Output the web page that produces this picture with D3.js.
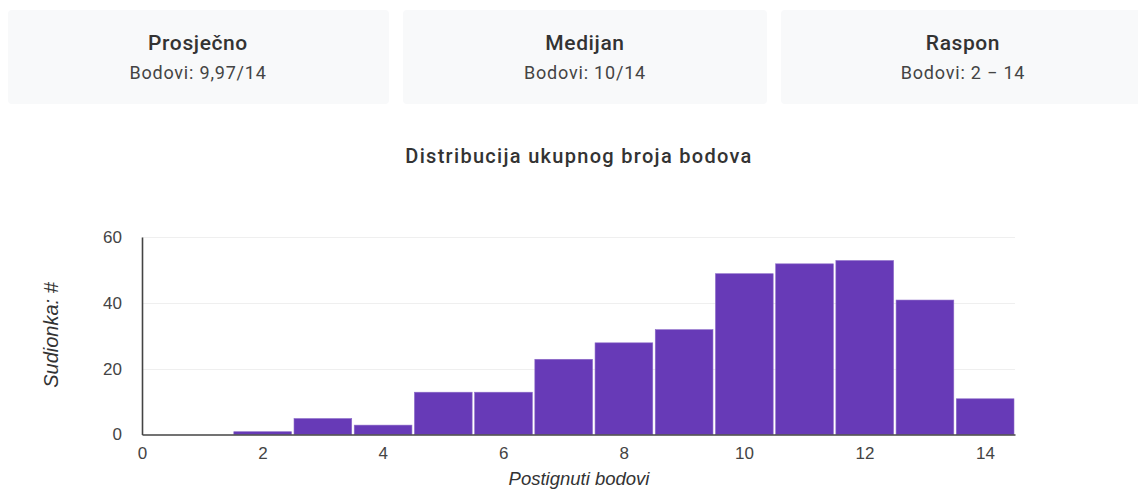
<!DOCTYPE html>
<html>
<head>
<meta charset="utf-8">
<script src="https://cdn.jsdelivr.net/npm/d3@7"></script>
<style>
  html, body { margin: 0; padding: 0; background: #fff; }
  svg { display: block; }
</style>
</head>
<body>
<svg id="chart" width="1138" height="489"></svg>
<script>
// ---- data ----
const cardTitles = ["Prosječno", "Medijan", "Raspon"];
const cardValues = ["Bodovi: 9,97/14", "Bodovi: 10/14", "Bodovi: 2 \u2212 14"];
const scores = [2, 3, 4, 5, 6, 7, 8, 9, 10, 11, 12, 13, 14];
const counts = [1, 5, 3, 13, 13, 23, 28, 32, 49, 52, 53, 41, 11];
const xTicks = [0, 2, 4, 6, 8, 10, 12, 14];
const yTicks = [0, 20, 40, 60];
const chartTitle = "Distribucija ukupnog broja bodova";
const xTitle = "Postignuti bodovi";
const yTitle = "Sudionka: #";

const svg = d3.select("#chart");

// ---- summary cards ----
const cardX = d3.scaleOrdinal().domain(cardTitles).range([8, 403, 781]);
const cardW = d3.scaleOrdinal().domain(cardTitles).range([381, 364, 364]);
const cardCx = d3.scaleOrdinal().domain(cardTitles).range([190, 182, 182]);
const cards = svg.selectAll("g.card").data(cardTitles).enter().append("g")
  .attr("class", "card")
  .attr("transform", d => `translate(${cardX(d)},10)`);
cards.append("rect")
  .attr("width", d => cardW(d)).attr("height", 94)
  .attr("rx", 4).attr("fill", "#f8f9fa");
cards.append("text")
  .attr("x", d => cardCx(d))
  .attr("y", 39.5)
  .attr("text-anchor", "middle")
  .attr("font-family", "Roboto, sans-serif")
  .attr("font-weight", 500)
  .attr("font-size", 21)
  .attr("letter-spacing", 0.6)
  .attr("fill", "#333")
  .text(d => d);
cards.append("text")
  .attr("x", d => cardCx(d))
  .attr("y", 68.5)
  .attr("text-anchor", "middle")
  .attr("font-family", "Roboto, sans-serif")
  .attr("font-size", 18)
  .attr("letter-spacing", 0.8)
  .attr("fill", "#444")
  .text((d, i) => cardValues[i]);

// ---- chart title ----
svg.append("text")
  .attr("x", 579).attr("y", 163)
  .attr("text-anchor", "middle")
  .attr("font-family", "Roboto, sans-serif")
  .attr("font-weight", 500)
  .attr("font-size", 20)
  .attr("letter-spacing", 1.3)
  .attr("fill", "#333")
  .text(chartTitle);

// ---- scales ----
const x = d3.scaleLinear().domain([0, 14.5]).range([142, 1015]);
const y = d3.scaleLinear().domain([0, 60]).range([434.5, 237]);

// grid
svg.append("g").selectAll("line").data(yTicks.filter(t => t > 0)).enter().append("line")
  .attr("x1", x(0)).attr("x2", x(14.5))
  .attr("y1", d => Math.round(y(d)) + 0.5).attr("y2", d => Math.round(y(d)) + 0.5)
  .attr("stroke", "#efefef").attr("stroke-width", 1);

// bars
svg.append("g").selectAll("rect").data(scores).enter().append("rect")
  .attr("x", d => x(d - 0.5) + 1.5)
  .attr("width", d => x(d + 0.5) - x(d - 0.5) - 2.5)
  .attr("y", (d, i) => y(counts[i]) + 0.5)
  .attr("height", (d, i) => y(0) - y(counts[i]) - 0.5)
  .attr("fill", "#673ab7")
  .attr("stroke", "#8c6ac8")
  .attr("stroke-width", 0.6);

// axes
const xAxis = d3.axisBottom(x).tickValues(xTicks).tickSize(0).tickPadding(12).tickFormat(d3.format("d"));
const gx = svg.append("g").attr("transform", `translate(0,${y(0)})`).call(xAxis);
gx.select(".domain").attr("stroke", "#444").attr("stroke-width", 1.6);
gx.selectAll("text").attr("font-family", "'Liberation Sans', Arial, sans-serif")
  .attr("font-size", 17).attr("fill", "#444");

const yAxis = d3.axisLeft(y).tickValues(yTicks).tickSize(0).tickPadding(20).tickFormat(d3.format("d"));
const gy = svg.append("g").attr("transform", `translate(${x(0)},0)`).call(yAxis);
gy.select(".domain").attr("stroke", "#444").attr("stroke-width", 1.6);
gy.selectAll("text").attr("font-family", "'Liberation Sans', Arial, sans-serif")
  .attr("font-size", 17).attr("fill", "#444");

// axis titles
svg.append("text")
  .attr("x", 579).attr("y", 485)
  .attr("text-anchor", "middle")
  .attr("font-family", "'Liberation Sans', Arial, sans-serif")
  .attr("font-style", "italic")
  .attr("font-size", 18.5)
  .attr("fill", "#333")
  .text(xTitle);

svg.append("text")
  .attr("transform", "translate(58,335) rotate(-90)")
  .attr("text-anchor", "middle")
  .attr("font-family", "'Liberation Sans', Arial, sans-serif")
  .attr("font-style", "italic")
  .attr("font-size", 20)
  .attr("fill", "#333")
  .text(yTitle);
</script>
</body>
</html>
